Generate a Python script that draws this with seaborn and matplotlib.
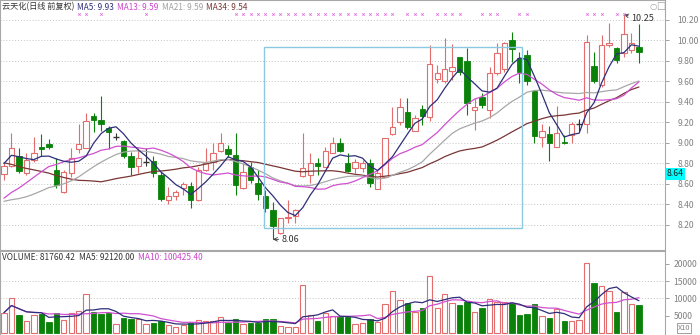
import numpy as np
import pandas as pd
import matplotlib
matplotlib.use("Agg")
import matplotlib.pyplot as plt
import matplotlib.transforms as mtransforms
import seaborn as sns

# ---------------- data ----------------
opens = [8.70, 8.78, 8.87, 8.71, 8.83, 8.96, 8.99, 8.74, 8.52, 8.71,
         8.94, 8.95, 9.26, 9.22, 9.15, 9.06, 9.02, 8.87, 8.78, 8.81,
         8.82, 8.69, 8.44, 8.48, 8.56, 8.58, 8.44, 8.74, 8.81, 8.92,
         8.94, 8.88, 8.56, 8.77, 8.61, 8.48, 8.35, 8.12, 8.27, 8.29,
         8.68, 8.69, 8.80, 8.77, 8.90, 9.00, 8.80, 8.76, 8.76, 8.80,
         8.55, 8.67, 9.09, 9.20, 9.30, 9.12, 9.33, 9.25, 9.62, 9.60,
         9.70, 9.84, 9.80, 9.32, 9.45, 9.32, 9.68, 9.72, 10.00, 9.83,
         9.86, 9.51, 9.06, 9.09, 8.96, 9.01, 9.08, 9.19, 9.19, 9.75,
         9.57, 9.96, 9.93, 9.88, 9.91, 9.94]
highs = [8.80, 9.10, 8.95, 8.90, 9.06, 9.09, 9.04, 8.85, 8.74, 8.95,
         9.19, 9.29, 9.29, 9.46, 9.17, 9.10, 9.03, 8.91, 8.95, 8.95,
         8.87, 8.72, 8.57, 8.54, 8.62, 8.62, 8.77, 8.95, 9.00, 9.10,
         8.98, 9.10, 8.80, 8.81, 8.74, 8.54, 8.42, 8.27, 8.44, 8.36,
         9.10, 8.90, 8.85, 8.96, 9.06, 9.05, 8.90, 8.84, 8.83, 8.84,
         8.74, 9.05, 9.35, 9.44, 9.44, 9.27, 9.37, 9.96, 9.76, 10.02,
         9.97, 9.84, 9.93, 9.44, 9.49, 9.74, 9.98, 9.99, 10.08, 9.89,
         9.91, 9.51, 9.19, 9.17, 9.36, 9.08, 9.20, 9.23, 10.05, 9.89,
         10.05, 10.17, 9.94, 10.25, 10.07, 10.16]
lows = [8.64, 8.77, 8.71, 8.69, 8.81, 8.87, 8.94, 8.56, 8.51, 8.67,
        8.90, 8.95, 9.11, 9.12, 8.94, 9.03, 8.85, 8.69, 8.71, 8.78,
        8.67, 8.43, 8.40, 8.44, 8.49, 8.37, 8.43, 8.73, 8.74, 8.91,
        8.86, 8.49, 8.55, 8.61, 8.44, 8.33, 8.06, 8.11, 8.22, 8.22,
        8.67, 8.61, 8.69, 8.77, 8.90, 8.91, 8.72, 8.71, 8.72, 8.57,
        8.55, 8.67, 9.08, 9.18, 9.14, 9.12, 9.18, 9.21, 9.59, 9.59,
        9.61, 9.66, 9.27, 9.13, 9.34, 9.24, 9.66, 9.69, 9.79, 9.59,
        9.57, 9.00, 8.96, 8.82, 8.96, 8.99, 9.00, 9.12, 9.10, 9.59,
        9.55, 9.94, 9.78, 9.84, 9.88, 9.78]
closes = [8.78, 8.95, 8.73, 8.83, 8.90, 8.94, 8.96, 8.59, 8.72, 8.85,
          8.99, 9.21, 9.22, 9.19, 9.11, 9.06, 8.87, 8.77, 8.85, 8.81,
          8.71, 8.45, 8.48, 8.52, 8.60, 8.44, 8.74, 8.80, 8.90, 9.00,
          8.89, 8.59, 8.72, 8.64, 8.50, 8.37, 8.19, 8.27, 8.28, 8.35,
          8.76, 8.80, 8.78, 8.92, 9.00, 8.92, 8.73, 8.81, 8.80, 8.61,
          8.71, 9.05, 9.16, 9.35, 9.16, 9.24, 9.26, 9.77, 9.68, 9.72,
          9.74, 9.69, 9.39, 9.35, 9.37, 9.68, 9.88, 9.98, 9.92, 9.69,
          9.60, 9.07, 9.12, 9.00, 9.10, 9.00, 9.19, 9.19, 9.99, 9.60,
          9.96, 9.98, 9.81, 10.06, 9.98, 9.89]
# closes before the visible window (estimated from where the MA lines start)
history_close = [9.45, 9.50, 9.42, 9.38, 9.46, 9.52, 9.40, 9.35, 9.41, 9.37,
                 9.30, 9.38, 9.43, 8.62, 8.50, 8.45, 8.35, 8.30, 8.28, 8.25,
                 8.30, 8.22, 8.18, 8.15, 8.20, 8.25, 8.30, 8.32, 8.38, 8.55,
                 8.80, 8.92, 8.95]
# volume (shown on the axis divided by 10)
volume = [59000, 100000, 52000, 35000, 52000, 55000, 33000, 59000, 38000, 57000,
          65000, 112000, 62000, 55000, 57000, 26000, 44000, 42000, 40000, 26000,
          30000, 35000, 23000, 18000, 23000, 30000, 38000, 35000, 35000, 45000,
          28000, 40000, 26000, 30000, 30000, 40000, 40000, 20000, 18000, 18000,
          139000, 52000, 36000, 59000, 49000, 47000, 47000, 26000, 28000, 42000,
          33000, 84000, 123000, 96000, 86000, 62000, 72000, 165000, 72000, 113000,
          88000, 81000, 91000, 62000, 72000, 98000, 91000, 89000, 88000, 52000,
          54000, 84000, 49000, 44000, 69000, 35000, 35000, 38000, 202000, 146000,
          136000, 122000, 60000, 120000, 84000, 81760]
signal_idx = [10, 11, 13, 19] + list(range(31, 53)) + [54, 55, 56, 58, 59, 60, 61,
              64, 65, 66, 69, 70, 78, 79, 80, 82, 83]
price_ticks = [8.20, 8.40, 8.60, 8.80, 9.00, 9.20, 9.40, 9.60, 9.80, 10.00, 10.20]
vol_ticks = [5000, 10000, 15000, 20000]
title_parts = [("云天化(日线 前复权)", "#333333"), ("MA5: 9.93", "#2E2E7A"),
               ("MA13: 9.59", "#CC44CC"), ("MA21: 9.59", "#A0A0A0"),
               ("MA34: 9.54", "#7A3535")]
vol_parts = [("VOLUME: 81760.42", "#333333"), ("MA5: 92120.00", "#333333"),
             ("MA10: 100425.40", "#CC44CC")]
last_price_label = "8.64"
hi_label, lo_label = "10.25", "8.06"

# ---------------- styling ----------------
sns.set_theme(style="white")
plt.rcParams['font.family'] = ['Noto Sans CJK SC', 'DejaVu Sans']

RED = "#E36C6C"
GREEN = "#0A820A"
DOJI = "#333333"
W, H = 700, 335
fig = plt.figure(figsize=(W / 100, H / 100), dpi=100)

def fx(px):
    return px / W

def fy(py):
    return 1 - py / H

axp = fig.add_axes([0, fy(250), fx(665), 250 / H])
axv = fig.add_axes([0, 0, fx(665), (335 - 251) / H])

n = len(closes)
idx = np.arange(n)
xlim = (-0.535, 88.49)

allc = pd.Series(history_close + closes)
ma = {}
for p in (5, 13, 21, 34):
    ma[p] = allc.rolling(p, min_periods=1).mean().values[len(history_close):]
ma_colors = {5: "#2E2E7A", 13: "#D050D0", 21: "#A8A8A8", 34: "#7A3535"}

df = pd.DataFrame({"i": idx, "o": opens, "h": highs, "l": lows, "c": closes,
                   "v": np.array(volume) / 10.0})
up = df[df.c > df.o]
dn = df[df.c < df.o]
dj = df[df.c == df.o]

for t in price_ticks:
    axp.axhline(t, color="#C4C4C4", lw=0.7, ls=(0, (1, 2)), zorder=0)

bw = 0.72
axp.vlines(up.i, up.l, up.h, color=RED, lw=0.8, zorder=2)
axp.vlines(dn.i, dn.l, dn.h, color=GREEN, lw=0.8, zorder=2)
axp.vlines(dj.i, dj.l, dj.h, color=DOJI, lw=0.8, zorder=2)
axp.bar(up.i, up.c - up.o, bottom=up.o, width=bw, facecolor="white",
        edgecolor=RED, lw=0.8, zorder=3)
axp.bar(dn.i, dn.o - dn.c, bottom=dn.c, width=bw, facecolor=GREEN,
        edgecolor=GREEN, lw=0.6, zorder=3)
axp.hlines(dj.o, dj.i - bw / 2, dj.i + bw / 2, color=DOJI, lw=1.0, zorder=3)

for p in (34, 21, 13, 5):
    sns.lineplot(x=idx, y=ma[p], ax=axp, color=ma_colors[p], lw=0.9, zorder=4)

axp.add_patch(plt.Rectangle((34.8, 8.17), 34.6, 1.77, fill=False,
                            edgecolor="#8CC8E0", lw=1.0, zorder=5))

trans = mtransforms.blended_transform_factory(axp.transData, axp.transAxes)
axp.scatter(signal_idx, [1 - 14 / 250] * len(signal_idx), marker="x", s=3,
            color="#E070E0", lw=0.6, transform=trans, zorder=6)

ih = int(np.argmax(highs))
il = int(np.argmin(lows))
axp.annotate(hi_label, xy=(ih, highs[ih]), xytext=(ih + 1.0, highs[ih] - 0.04),
             fontsize=6.5, color="#333333", va="center", ha="left",
             arrowprops=dict(arrowstyle="->", color="#333333", lw=0.6,
                             shrinkA=0, shrinkB=0))
axp.annotate(lo_label, xy=(il, lows[il]), xytext=(il + 1.2, lows[il]),
             fontsize=6.5, color="#333333", va="center", ha="left",
             arrowprops=dict(arrowstyle="->", color="#333333", lw=0.6,
                             shrinkA=0, shrinkB=0))

axp.set_xlim(*xlim)
axp.set_ylim(7.956, 10.395)
axp.set_xticks([])
axp.yaxis.tick_right()
axp.set_yticks(price_ticks)
axp.set_yticklabels([f"{t:.2f}" for t in price_ticks])
axp.tick_params(axis="y", which="both", right=True, length=3, width=0.6,
                color="#909090", labelsize=6.2, labelcolor="#808080", pad=6)
axp.set_ylabel("")
for s in axp.spines.values():
    s.set_color("#A8A8A8")
    s.set_linewidth(0.8)

for t in (10000, 15000):
    axv.axhline(t, color="#C4C4C4", lw=0.7, ls=(0, (1, 2)), zorder=0)
vup = df[df.c >= df.o]
vdn = df[df.c < df.o]
axv.bar(vup.i, vup.v, width=bw, facecolor="white", edgecolor=RED, lw=0.8, zorder=2)
axv.bar(vdn.i, vdn.v, width=bw, facecolor=GREEN, edgecolor=GREEN, lw=0.6, zorder=2)
vs = pd.Series(df.v)
sns.lineplot(x=idx, y=vs.rolling(10, min_periods=1).mean().values, ax=axv,
             color="#D050D0", lw=0.9, zorder=3)
sns.lineplot(x=idx, y=vs.rolling(5, min_periods=1).mean().values, ax=axv,
             color="#2E2E7A", lw=0.9, zorder=3)
axv.set_xlim(*xlim)
axv.set_ylim(-580, 23768)
axv.set_xticks([])
axv.yaxis.tick_right()
axv.set_yticks(vol_ticks)
axv.set_yticklabels([str(t) for t in vol_ticks])
axv.tick_params(axis="y", right=True, length=3, width=0.6, color="#909090",
                labelsize=6.2, labelcolor="#808080", pad=3)
axv.set_ylabel("")
for s in axv.spines.values():
    s.set_color("#A8A8A8")
    s.set_linewidth(0.8)
axv.spines["bottom"].set_visible(False)

# header texts, chained one after another
renderer = fig.canvas.get_renderer()

def chain(parts, x0, y, gap, size):
    x = x0
    for t, col in parts:
        txt = fig.text(fx(x), fy(y), t, fontsize=size, color=col, va="center", ha="left")
        bb = txt.get_window_extent(renderer=renderer)
        x += bb.width + gap

chain(title_parts, 2, 7, 3, 5.9)
chain(vol_parts, 2, 257, 4, 6.0)

fig.text(fx(667), fy(174), last_price_label, fontsize=6.3, color="#202020",
         va="center", ha="left",
         bbox=dict(boxstyle="square,pad=0.15", facecolor="#00FFFF", edgecolor="none"))
fig.text(fx(684), fy(328), "X10", fontsize=5.3, color="#808080", va="center",
         ha="center", bbox=dict(boxstyle="square,pad=0.1", facecolor="white",
                                edgecolor="#909090", lw=0.6))
fig.text(fx(653), fy(6), "○", fontsize=6, color="#A0A0A0", va="center", ha="center",
         family=["DejaVu Sans"])
fig.text(fx(661), fy(6), "□", fontsize=7, color="#A0A0A0", va="center", ha="center",
         family=["DejaVu Sans"])

fig.savefig("out.png", dpi=100, facecolor="white")
